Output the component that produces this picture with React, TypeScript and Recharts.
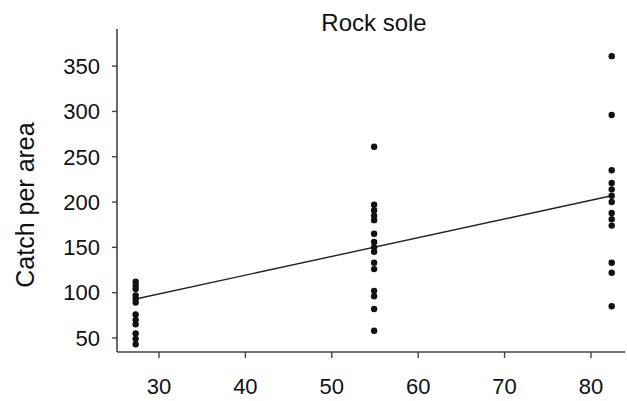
import React from 'react';
import { ScatterChart, Scatter, XAxis, YAxis, ReferenceLine, Label, Customized } from 'recharts';

// sampling positions (x) and catch per area at each position
const columnX = [27.3, 54.9, 82.4];
const catchLow = [112, 108, 104, 97, 93, 89, 76, 70, 65, 55, 49, 43];
const catchMid = [261, 197, 191, 185, 180, 165, 156, 150, 145, 133, 126, 102, 96, 82, 58];
const catchHigh = [361, 296, 235, 221, 214, 207, 200, 188, 181, 174, 133, 122, 85];

// fitted line end points
const fitX = [27.3, 82.4];
const fitY = [93, 207];

const xTicks = [30, 40, 50, 60, 70, 80];
const yTicks = [50, 100, 150, 200, 250, 300, 350];

const FONT = '"Liberation Sans", Arial, Helvetica, sans-serif';

const points = [catchLow, catchMid, catchHigh].flatMap((vals, i) =>
  vals.map((v) => ({ x: columnX[i], y: v }))
);

const Dot = (props: any) => <circle cx={props.cx} cy={props.cy} r={3.2} fill="#111" />;

export default function App() {
  return (
    <div style={{ position: 'absolute', left: 0, top: 0, background: '#fff' }}>
      <ScatterChart width={627} height={401} margin={{ top: 29, right: 2, bottom: 0, left: 0 }}>
        <XAxis
          type="number"
          dataKey="x"
          domain={[25.14, 83.94]}
          ticks={xTicks}
          allowDataOverflow
          height={49}
          tickSize={6}
          tickMargin={20}
          axisLine={{ stroke: '#444', strokeWidth: 1.6 }}
          tickLine={{ stroke: '#444', strokeWidth: 1.4 }}
          tick={{ fill: '#111', fontSize: 22, fontFamily: FONT }}
        />
        <YAxis
          type="number"
          dataKey="y"
          domain={[34.5, 390.96]}
          ticks={yTicks}
          allowDataOverflow
          width={117}
          tickSize={5}
          tickMargin={12}
          axisLine={{ stroke: '#444', strokeWidth: 1.6 }}
          tickLine={{ stroke: '#444', strokeWidth: 1.4 }}
          tick={{ fill: '#111', fontSize: 22, fontFamily: FONT }}
        >
          <Label
            content={() => (
              <text
                x={25}
                y={205}
                transform="rotate(-90 25 205)"
                textAnchor="middle"
                dominantBaseline="central"
                fill="#111"
                fontSize={25}
                fontFamily={FONT}
              >
                Catch per area
              </text>
            )}
          />
        </YAxis>
        <ReferenceLine
          segment={[
            { x: fitX[0], y: fitY[0] },
            { x: fitX[1], y: fitY[1] },
          ]}
          stroke="#222"
          strokeWidth={1.4}
        />
        <Scatter data={points} shape={<Dot />} isAnimationActive={false} />
        <Customized
          component={() => (
            <text x={374} y={22} textAnchor="middle" dominantBaseline="central" fill="#111" fontSize={24} fontFamily={FONT}>
              Rock sole
            </text>
          )}
        />
      </ScatterChart>
    </div>
  );
}
